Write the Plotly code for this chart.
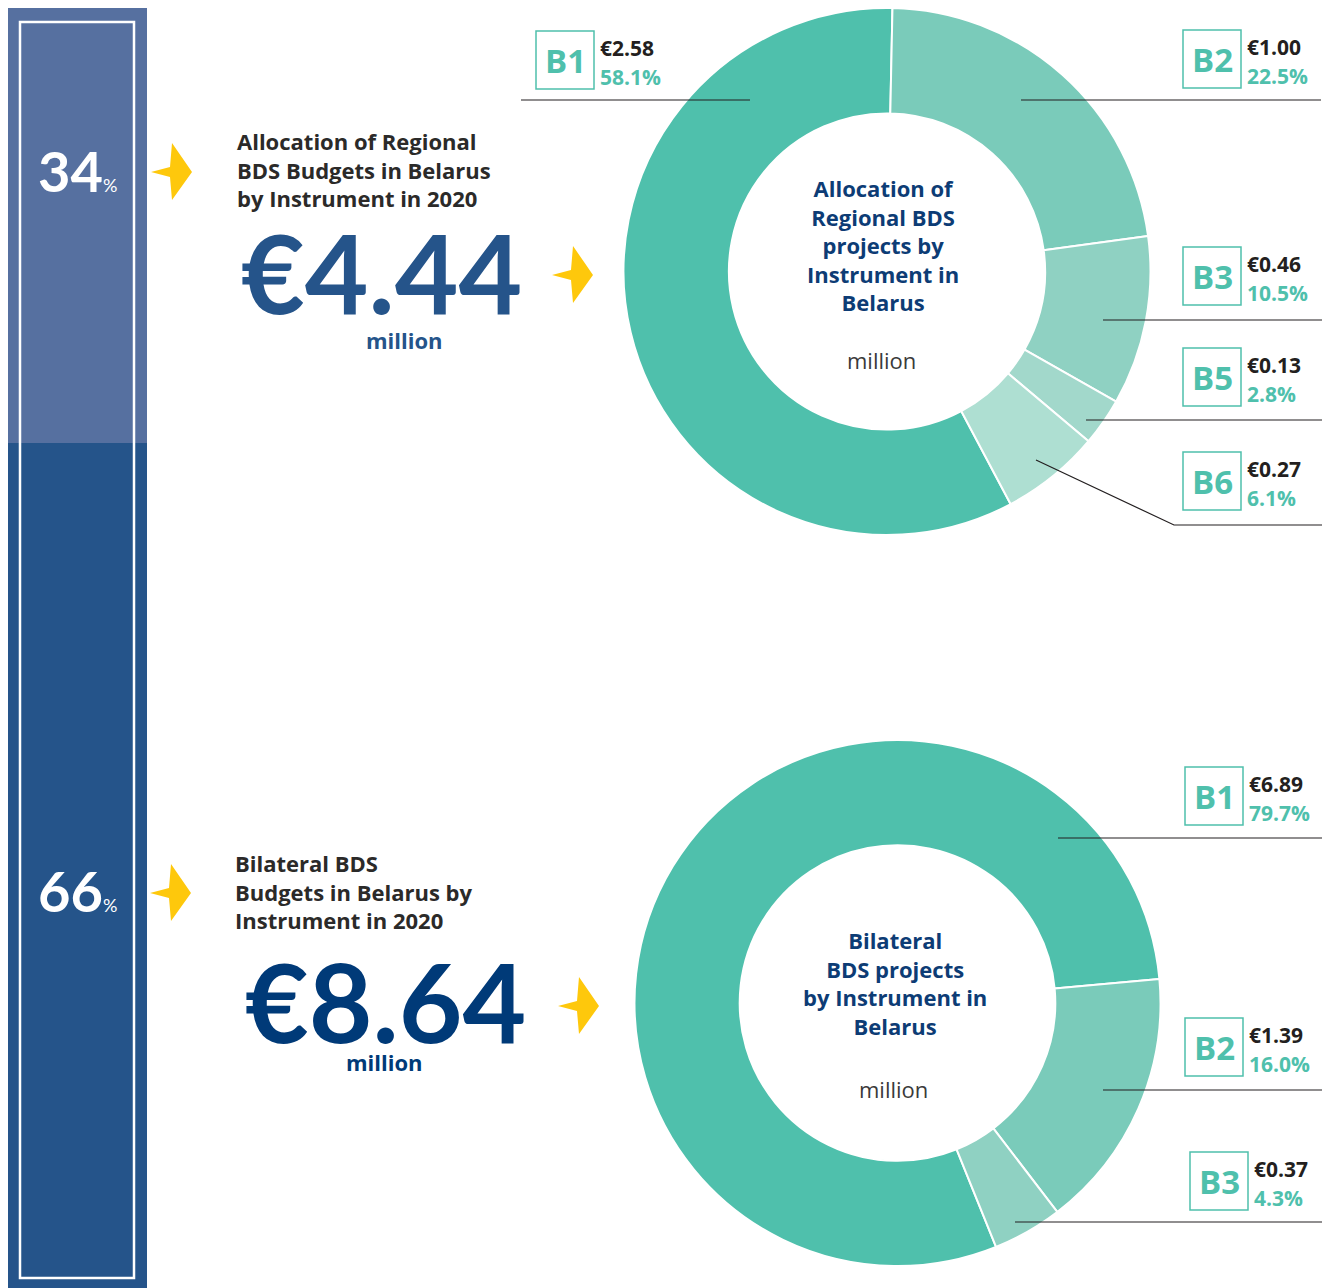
import plotly.graph_objects as go

# chart values
regional_labels = ["B1", "B2", "B3", "B5", "B6"]
regional_values = [2.58, 1.00, 0.46, 0.13, 0.27]
regional_pct = [58.1, 22.5, 10.5, 2.8, 6.1]

bilateral_labels = ["B1", "B2", "B3"]
bilateral_values = [6.89, 1.39, 0.37]
bilateral_pct = [79.7, 16.0, 4.3]

totals = [4.44, 8.64]
shares = [34, 66]

W, H = 1330, 1288
OFF = 8  # page body margin; work in screen pixels
FONT = "Open Sans"
BIG_FONT = "Lato"
TEAL = "#4fc0ac"
regional_colors = ["#4fc0ac", "#7acbba", "#8fd1c2", "#a2d8cb", "#aedfd2"]
bilateral_colors = ["#4fc0ac", "#7acbba", "#8fd1c2"]

fig = go.Figure()

# invisible scatter so pixel-based axes exist for shapes / annotations
fig.add_trace(go.Scatter(x=[OFF], y=[OFF], mode="markers", marker=dict(opacity=0),
                         hoverinfo="skip", showlegend=False))


def dom(x0, x1, y0, y1):
    clamp = lambda v: min(max(v, 0.0), 1.0)
    return dict(x=[clamp((x0 - OFF) / W), clamp((x1 - OFF) / W)],
                y=[clamp(1 - (y1 - OFF) / H), clamp(1 - (y0 - OFF) / H)])


fig.add_trace(go.Pie(
    labels=regional_labels, values=regional_values, sort=False,
    direction="clockwise", rotation=152, hole=0.6,
    marker=dict(colors=regional_colors, line=dict(color="white", width=2)),
    textinfo="none", showlegend=False, domain=dom(623, 1151, 8, 535)
))
fig.add_trace(go.Pie(
    labels=bilateral_labels, values=bilateral_values, sort=False,
    direction="clockwise", rotation=158, hole=0.6,
    marker=dict(colors=bilateral_colors, line=dict(color="white", width=2)),
    textinfo="none", showlegend=False, domain=dom(634, 1161, 740, 1266)
))

shapes = []
annotations = []

# left share bar
shapes.append(dict(type="rect", x0=7, x1=147, y0=7, y1=443, fillcolor="#5670a0", line_width=0))
shapes.append(dict(type="rect", x0=7, x1=147, y0=443, y1=1300, fillcolor="#25548a", line_width=0))
shapes.append(dict(type="rect", x0=20, x1=134, y0=22, y1=1278, line=dict(color="white", width=2.5)))

for s, yc in zip(shares, [170, 890]):
    annotations.append(dict(x=36, y=yc, xanchor="left", yanchor="middle",
                            text=f"<b>{s}</b><span style='font-size:18px'>%</span>",
                            font=dict(family=BIG_FONT, size=56, color="white")))


def arrow(x0, yc):
    pts = [(0, 0), (19, -5), (21, -29), (41, 0), (21, 28), (19, 5)]
    d = "M " + " L ".join(f"{x0 + dx} {yc + dy}" for dx, dy in pts) + " Z"
    return dict(type="path", path=d, fillcolor="#fec80c", line_width=0)


for ax, ay in [(151, 172), (552, 275), (150, 893), (558, 1006)]:
    shapes.append(arrow(ax, ay))

# left headline blocks
blocks = [
    ("Allocation of Regional<br>BDS Budgets in Belarus<br>by Instrument in 2020", 235, 169,
     totals[0], 381, 271, "#25548a", 404, 340),
    ("Bilateral BDS<br>Budgets in Belarus by<br>Instrument in 2020", 233, 891,
     totals[1], 385, 1000, "#003a78", 384, 1062),
]
for title, tx, ty, total, vx, vy, vcol, mx, my in blocks:
    annotations.append(dict(x=tx, y=ty, xanchor="left", yanchor="middle", align="left",
                            text=f"<b>{title}</b>",
                            font=dict(family=FONT, size=22, color="#2b2a29")))
    annotations.append(dict(x=vx, y=vy, xanchor="center", yanchor="middle",
                            text=f"<b>€{total:.2f}</b>",
                            font=dict(family=BIG_FONT, size=110, color=vcol)))
    annotations.append(dict(x=mx, y=my, xanchor="center", yanchor="middle",
                            text="<b>million</b>",
                            font=dict(family=FONT, size=22, color=vcol)))

# donut centre texts
centres = [
    ("Allocation of<br>Regional BDS<br>projects by<br>Instrument in<br>Belarus", 883, 245, 881, 360),
    ("Bilateral<br>BDS projects<br>by Instrument in<br>Belarus", 895, 983, 893, 1089),
]
for txt, cx, cy, mx, my in centres:
    annotations.append(dict(x=cx, y=cy, xanchor="center", yanchor="middle", align="center",
                            text=f"<b>{txt}</b>",
                            font=dict(family=FONT, size=22, color="#0d3c75")))
    annotations.append(dict(x=mx, y=my, xanchor="center", yanchor="middle",
                            text="million", font=dict(family=FONT, size=22, color="#3a3a3a")))

# slice callouts: box left x, box top y, leader line points
regional_callouts = [
    (536, 31, [(521, 100), (750, 100)]),
    (1183, 30, [(1021, 100), (1321, 100)]),
    (1183, 247, [(1103, 320), (1322, 320)]),
    (1183, 348, [(1086, 420), (1322, 420)]),
    (1183, 452, [(1036, 460), (1174, 525), (1325, 525)]),
]
bilateral_callouts = [
    (1185, 767, [(1058, 838), (1322, 838)]),
    (1185, 1018, [(1103, 1090), (1322, 1090)]),
    (1190, 1152, [(1015, 1222), (1322, 1222)]),
]

groups = [
    (regional_labels, regional_values, regional_pct, regional_callouts),
    (bilateral_labels, bilateral_values, bilateral_pct, bilateral_callouts),
]
for labels, values, pcts, callouts in groups:
    for lab, val, pct, (bx, by, line_pts) in zip(labels, values, pcts, callouts):
        shapes.append(dict(type="rect", x0=bx, x1=bx + 58, y0=by, y1=by + 58,
                           line=dict(color=TEAL, width=1.5)))
        annotations.append(dict(x=bx + 29, y=by + 29, xanchor="center", yanchor="middle",
                                text=f"<b>{lab}</b>",
                                font=dict(family=FONT, size=33, color=TEAL)))
        annotations.append(dict(x=bx + 62, y=by + 17, xanchor="left", yanchor="middle",
                                text=f"<b>€{val:.2f}</b>",
                                font=dict(family=FONT, size=21, color="#231f20")))
        annotations.append(dict(x=bx + 62, y=by + 46, xanchor="left", yanchor="middle",
                                text=f"<b>{pct:.1f}%</b>",
                                font=dict(family=FONT, size=21, color=TEAL)))
        d = "M " + " L ".join(f"{x} {y}" for x, y in line_pts)
        shapes.append(dict(type="path", path=d, line=dict(color="#231f20", width=1.2),
                           layer="above"))

for a in annotations:
    a.update(xref="x", yref="y", showarrow=False)
for s in shapes:
    s.update(xref="x", yref="y")

fig.update_layout(
    width=W, height=H,
    margin=dict(l=0, r=0, t=0, b=0),
    paper_bgcolor="white", plot_bgcolor="white",
    xaxis=dict(range=[OFF, W + OFF], visible=False, fixedrange=True, domain=[0, 1]),
    yaxis=dict(range=[H + OFF, OFF], visible=False, fixedrange=True, domain=[0, 1]),
    shapes=shapes, annotations=annotations,
    showlegend=False,
)

fig.write_html("out.html")
